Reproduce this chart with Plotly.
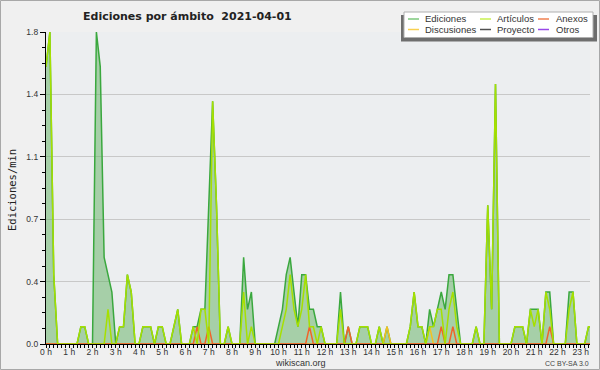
import plotly.graph_objects as go

W, H = 600, 370
L, R, T, B = 46, 590, 32, 344   # plot area in pixels

# Edits per minute, one value per 10-minute slot from 00:00 (one row per hour)
ediciones = [
    1.6, 1.8, 0.4, 0, 0, 0,
    0, 0, 0, 0.1, 0.1, 0,
    0, 1.8, 1.6, 0.5, 0.4, 0.3,
    0, 0.1, 0.1, 0.4, 0.3, 0,
    0, 0.1, 0.1, 0.1, 0, 0.1,
    0.1, 0, 0, 0.1, 0.2, 0,
    0, 0, 0.1, 0.1, 0.2, 0.2,
    0.8, 1.4, 0.8, 0, 0, 0.1,
    0, 0, 0, 0.5, 0.2, 0.3,
    0, 0, 0, 0, 0, 0,
    0.1, 0.2, 0.4, 0.5, 0.3, 0.1,
    0.4, 0.4, 0.2, 0.2, 0.1, 0.1,
    0, 0, 0, 0, 0.3, 0,
    0.1, 0, 0, 0.1, 0.1, 0.1,
    0, 0, 0.1, 0, 0.1, 0,
    0, 0, 0, 0, 0.1, 0.3,
    0.1, 0.1, 0, 0.2, 0.1, 0.2,
    0.3, 0.2, 0.4, 0.4, 0.2, 0,
    0, 0, 0, 0.1, 0, 0,
    0.8, 0.2, 1.5, 0, 0, 0,
    0, 0.1, 0.1, 0.1, 0, 0.2,
    0.2, 0.2, 0, 0.3, 0.3, 0,
    0, 0, 0, 0.3, 0.3, 0,
    0, 0, 0.1, 0.1,
]
articulos = [
    1.6, 1.8, 0.4, 0, 0, 0,
    0, 0, 0, 0.1, 0.1, 0,
    0, 0, 0, 0, 0.2, 0,
    0, 0.1, 0.1, 0.4, 0.3, 0,
    0, 0.1, 0.1, 0.1, 0, 0.1,
    0.1, 0, 0, 0.1, 0.2, 0,
    0, 0, 0.1, 0, 0.2, 0.2,
    0, 1.4, 0.8, 0, 0, 0.1,
    0, 0, 0, 0.3, 0, 0.1,
    0, 0, 0, 0, 0, 0,
    0, 0.1, 0.2, 0.4, 0.2, 0.1,
    0.2, 0.4, 0.1, 0.1, 0, 0.1,
    0, 0, 0, 0, 0.2, 0,
    0, 0, 0, 0.1, 0.1, 0.1,
    0, 0, 0.1, 0, 0, 0,
    0, 0, 0, 0, 0.1, 0.3,
    0.1, 0.1, 0, 0.1, 0.1, 0.2,
    0.2, 0, 0.2, 0.3, 0.1, 0,
    0, 0, 0, 0.1, 0, 0,
    0.8, 0.2, 1.5, 0, 0, 0,
    0, 0.1, 0.1, 0.1, 0, 0.2,
    0.1, 0.2, 0, 0.3, 0.2, 0,
    0, 0, 0, 0.2, 0.3, 0,
    0, 0, 0.1, 0.1,
]
anexos = [
    0, 0, 0, 0, 0, 0,
    0, 0, 0, 0, 0, 0,
    0, 0, 0, 0, 0, 0,
    0, 0, 0, 0, 0, 0,
    0, 0, 0, 0, 0, 0,
    0, 0, 0, 0, 0, 0,
    0, 0, 0, 0.1, 0, 0,
    0.1, 0, 0, 0, 0, 0,
    0, 0, 0, 0, 0, 0,
    0, 0, 0, 0, 0, 0,
    0, 0, 0, 0, 0, 0,
    0, 0, 0.1, 0, 0, 0,
    0, 0, 0, 0, 0, 0,
    0.1, 0, 0, 0, 0, 0,
    0, 0, 0, 0, 0, 0,
    0, 0, 0, 0, 0, 0,
    0, 0, 0, 0, 0, 0,
    0.1, 0, 0, 0.1, 0, 0,
    0, 0, 0, 0, 0, 0,
    0, 0, 0, 0, 0, 0,
    0, 0, 0, 0, 0, 0,
    0, 0, 0, 0, 0.1, 0,
    0, 0, 0, 0, 0, 0,
    0, 0, 0, 0,
]
discusiones = [
    0, 0, 0, 0, 0, 0,
    0, 0, 0, 0, 0, 0,
    0, 0, 0, 0, 0, 0,
    0, 0, 0, 0, 0, 0,
    0, 0, 0, 0, 0, 0,
    0, 0, 0, 0, 0, 0,
    0, 0, 0, 0, 0, 0,
    0, 0, 0, 0, 0, 0,
    0, 0, 0, 0, 0, 0,
    0, 0, 0, 0, 0, 0,
    0, 0, 0, 0, 0, 0,
    0, 0, 0, 0, 0, 0,
    0, 0, 0, 0, 0, 0,
    0, 0, 0, 0, 0, 0,
    0, 0, 0, 0, 0.1, 0,
    0, 0, 0, 0, 0, 0,
    0, 0, 0, 0.1, 0, 0,
    0, 0, 0, 0, 0, 0,
    0, 0, 0, 0, 0, 0,
    0, 0, 0, 0, 0, 0,
    0, 0, 0, 0, 0, 0,
    0, 0, 0, 0, 0, 0,
    0, 0, 0, 0, 0, 0,
    0, 0, 0, 0,
]
proyecto = [
    0, 0, 0, 0, 0, 0, 0, 0, 0, 0, 0, 0, 0, 0, 0, 0, 0, 0, 0, 0, 0, 0, 0, 0,
    0, 0, 0, 0, 0, 0, 0, 0, 0, 0, 0, 0, 0, 0, 0, 0, 0, 0, 0, 0, 0, 0, 0, 0,
    0, 0, 0, 0, 0, 0, 0, 0, 0, 0, 0, 0, 0, 0, 0, 0, 0, 0, 0, 0, 0, 0, 0, 0,
    0, 0, 0, 0, 0, 0, 0, 0, 0, 0, 0, 0, 0, 0, 0, 0, 0, 0, 0, 0, 0, 0, 0, 0,
    0, 0, 0, 0, 0, 0, 0, 0, 0, 0, 0, 0, 0, 0, 0, 0, 0, 0, 0, 0, 0, 0, 0, 0,
    0, 0, 0, 0, 0, 0, 0, 0, 0, 0, 0, 0, 0, 0, 0, 0, 0, 0,
]
otros = list(proyecto)

series_names = ["Ediciones", "Artículos", "Anexos", "Discusiones", "Proyecto", "Otros"]
series_colors = ["#3aa83e", "#a6e000", "#f0642a", "#f5c020", "#555555", "#9040e0"]
legend_colors = ["#7cc87c", "#c8f050", "#f08050", "#f8d050", "#505050", "#9848e8"]

title_text = "Ediciones por ámbito\u00a0 2021-04-01"
y_title = "Ediciones/min"
x_title = "wikiscan.org"
license_text = "CC BY-SA 3.0"

n = len(ediciones)
hours = [i / 6 for i in range(n)]
x_max = (R - L) / 23.25  # hours visible in the plot area

SMALL = "Liberation Sans, Arial, sans-serif"


def px(x):
    return (x - L) / (R - L)


def py(y):
    return (B - y) / (B - T)


fig = go.Figure()

fig.add_trace(go.Scatter(
    x=hours, y=ediciones, name=series_names[0], mode="lines",
    line=dict(color=series_colors[0], width=1.5),
    fill="tozeroy", fillcolor="rgba(96,176,96,0.5)",
))
for vals, name, col in [
    (proyecto, series_names[4], series_colors[4]),
    (otros, series_names[5], series_colors[5]),
    (discusiones, series_names[3], series_colors[3]),
    (anexos, series_names[2], series_colors[2]),
    (articulos, series_names[1], series_colors[1]),
]:
    fig.add_trace(go.Scatter(
        x=hours, y=vals, name=name, mode="lines",
        line=dict(color=col, width=1.5),
    ))

shapes = []
annotations = []

# outer border
shapes.append(dict(type="rect", xref="paper", yref="paper",
                   x0=px(0.5), x1=px(599.5), y0=py(369.5), y1=py(0.5),
                   line=dict(color="#a8a8a8", width=1), layer="below"))

# legend box with shadow
shapes.append(dict(type="rect", xref="paper", yref="paper",
                   x0=px(401), x1=px(597), y0=py(41.5), y1=py(15),
                   fillcolor="#6e6e6e", line=dict(width=0)))
shapes.append(dict(type="rect", xref="paper", yref="paper",
                   x0=px(404), x1=px(593), y0=py(37.5), y1=py(12),
                   fillcolor="#ffffff", line=dict(color="#b0b0b0", width=1)))

col_line_x = [408, 480, 538]
col_text_x = [423, 495, 554]
row_y = [19, 29.5]
legend_order = [0, 1, 2, 3, 4, 5]
for k, idx in enumerate(legend_order):
    r, c = divmod(k, 3)
    shapes.append(dict(type="line", xref="paper", yref="paper",
                       x0=px(col_line_x[c]), x1=px(col_line_x[c] + 11),
                       y0=py(row_y[r]), y1=py(row_y[r]),
                       line=dict(color=legend_colors[idx], width=1.5)))
    annotations.append(dict(text=series_names[idx], xref="paper", yref="paper",
                            x=px(col_text_x[c]), y=py(row_y[r]),
                            xanchor="left", yanchor="middle", showarrow=False,
                            font=dict(family=SMALL, size=9.5, color="#333333")))

annotations.append(dict(text="<b>" + title_text + "</b>", xref="paper", yref="paper",
                        x=px(187.5), y=py(16.5), xanchor="center", yanchor="middle",
                        showarrow=False,
                        font=dict(family="DejaVu Sans", size=11, color="#222222")))
annotations.append(dict(text=y_title, xref="paper", yref="paper",
                        x=px(12), y=py(190), xanchor="center", yanchor="middle",
                        textangle=-90, showarrow=False,
                        font=dict(family="DejaVu Sans Mono, DejaVu Sans", size=10.5, color="#222222")))
annotations.append(dict(text=x_title, xref="paper", yref="paper",
                        x=px(300), y=py(363), xanchor="center", yanchor="middle",
                        showarrow=False,
                        font=dict(family=SMALL, size=9, color="#333333")))
annotations.append(dict(text=license_text, xref="paper", yref="paper",
                        x=px(591), y=py(363), xanchor="right", yanchor="middle",
                        showarrow=False,
                        font=dict(family=SMALL, size=7, color="#444444")))

fig.update_layout(
    width=W, height=H,
    margin=dict(l=L, r=W - R, t=T, b=H - B, pad=0, autoexpand=False),
    paper_bgcolor="#f0f0f0",
    plot_bgcolor="#eceef0",
    showlegend=False,
    shapes=shapes,
    annotations=annotations,
    font=dict(family=SMALL, size=9, color="#333333"),
)
fig.update_xaxes(
    range=[0, x_max], tickmode="linear", tick0=0, dtick=1, ticksuffix=" h",
    showgrid=False, zeroline=False,
    showline=True, linecolor="#000000", linewidth=1.3,
    ticks="outside", ticklen=3, tickcolor="#000000", tickwidth=1,
    tickfont=dict(family=SMALL, size=8.5, color="#333333"),
    ticklabelstandoff=-3,
    minor=dict(dtick=1 / 6, ticks="outside", ticklen=3, tickcolor="#000000", showgrid=False),
    fixedrange=True,
)
fig.update_yaxes(
    range=[0, 1.8], tickmode="linear", tick0=0, dtick=0.36, tickformat=".1f",
    showgrid=True, gridcolor="#c8c8c8", gridwidth=1, zeroline=False,
    showline=True, linecolor="#000000", linewidth=1.3,
    ticks="outside", ticklen=5, tickcolor="#000000", tickwidth=1,
    tickfont=dict(family=SMALL, size=8.5, color="#333333"),
    minor=dict(dtick=0.09, ticks="outside", ticklen=3, tickcolor="#000000", showgrid=False),
    fixedrange=True,
)

fig.write_html("out.html", config={"displayModeBar": False},
               post_script="document.body.style.margin='0';document.body.style.padding='0';")
